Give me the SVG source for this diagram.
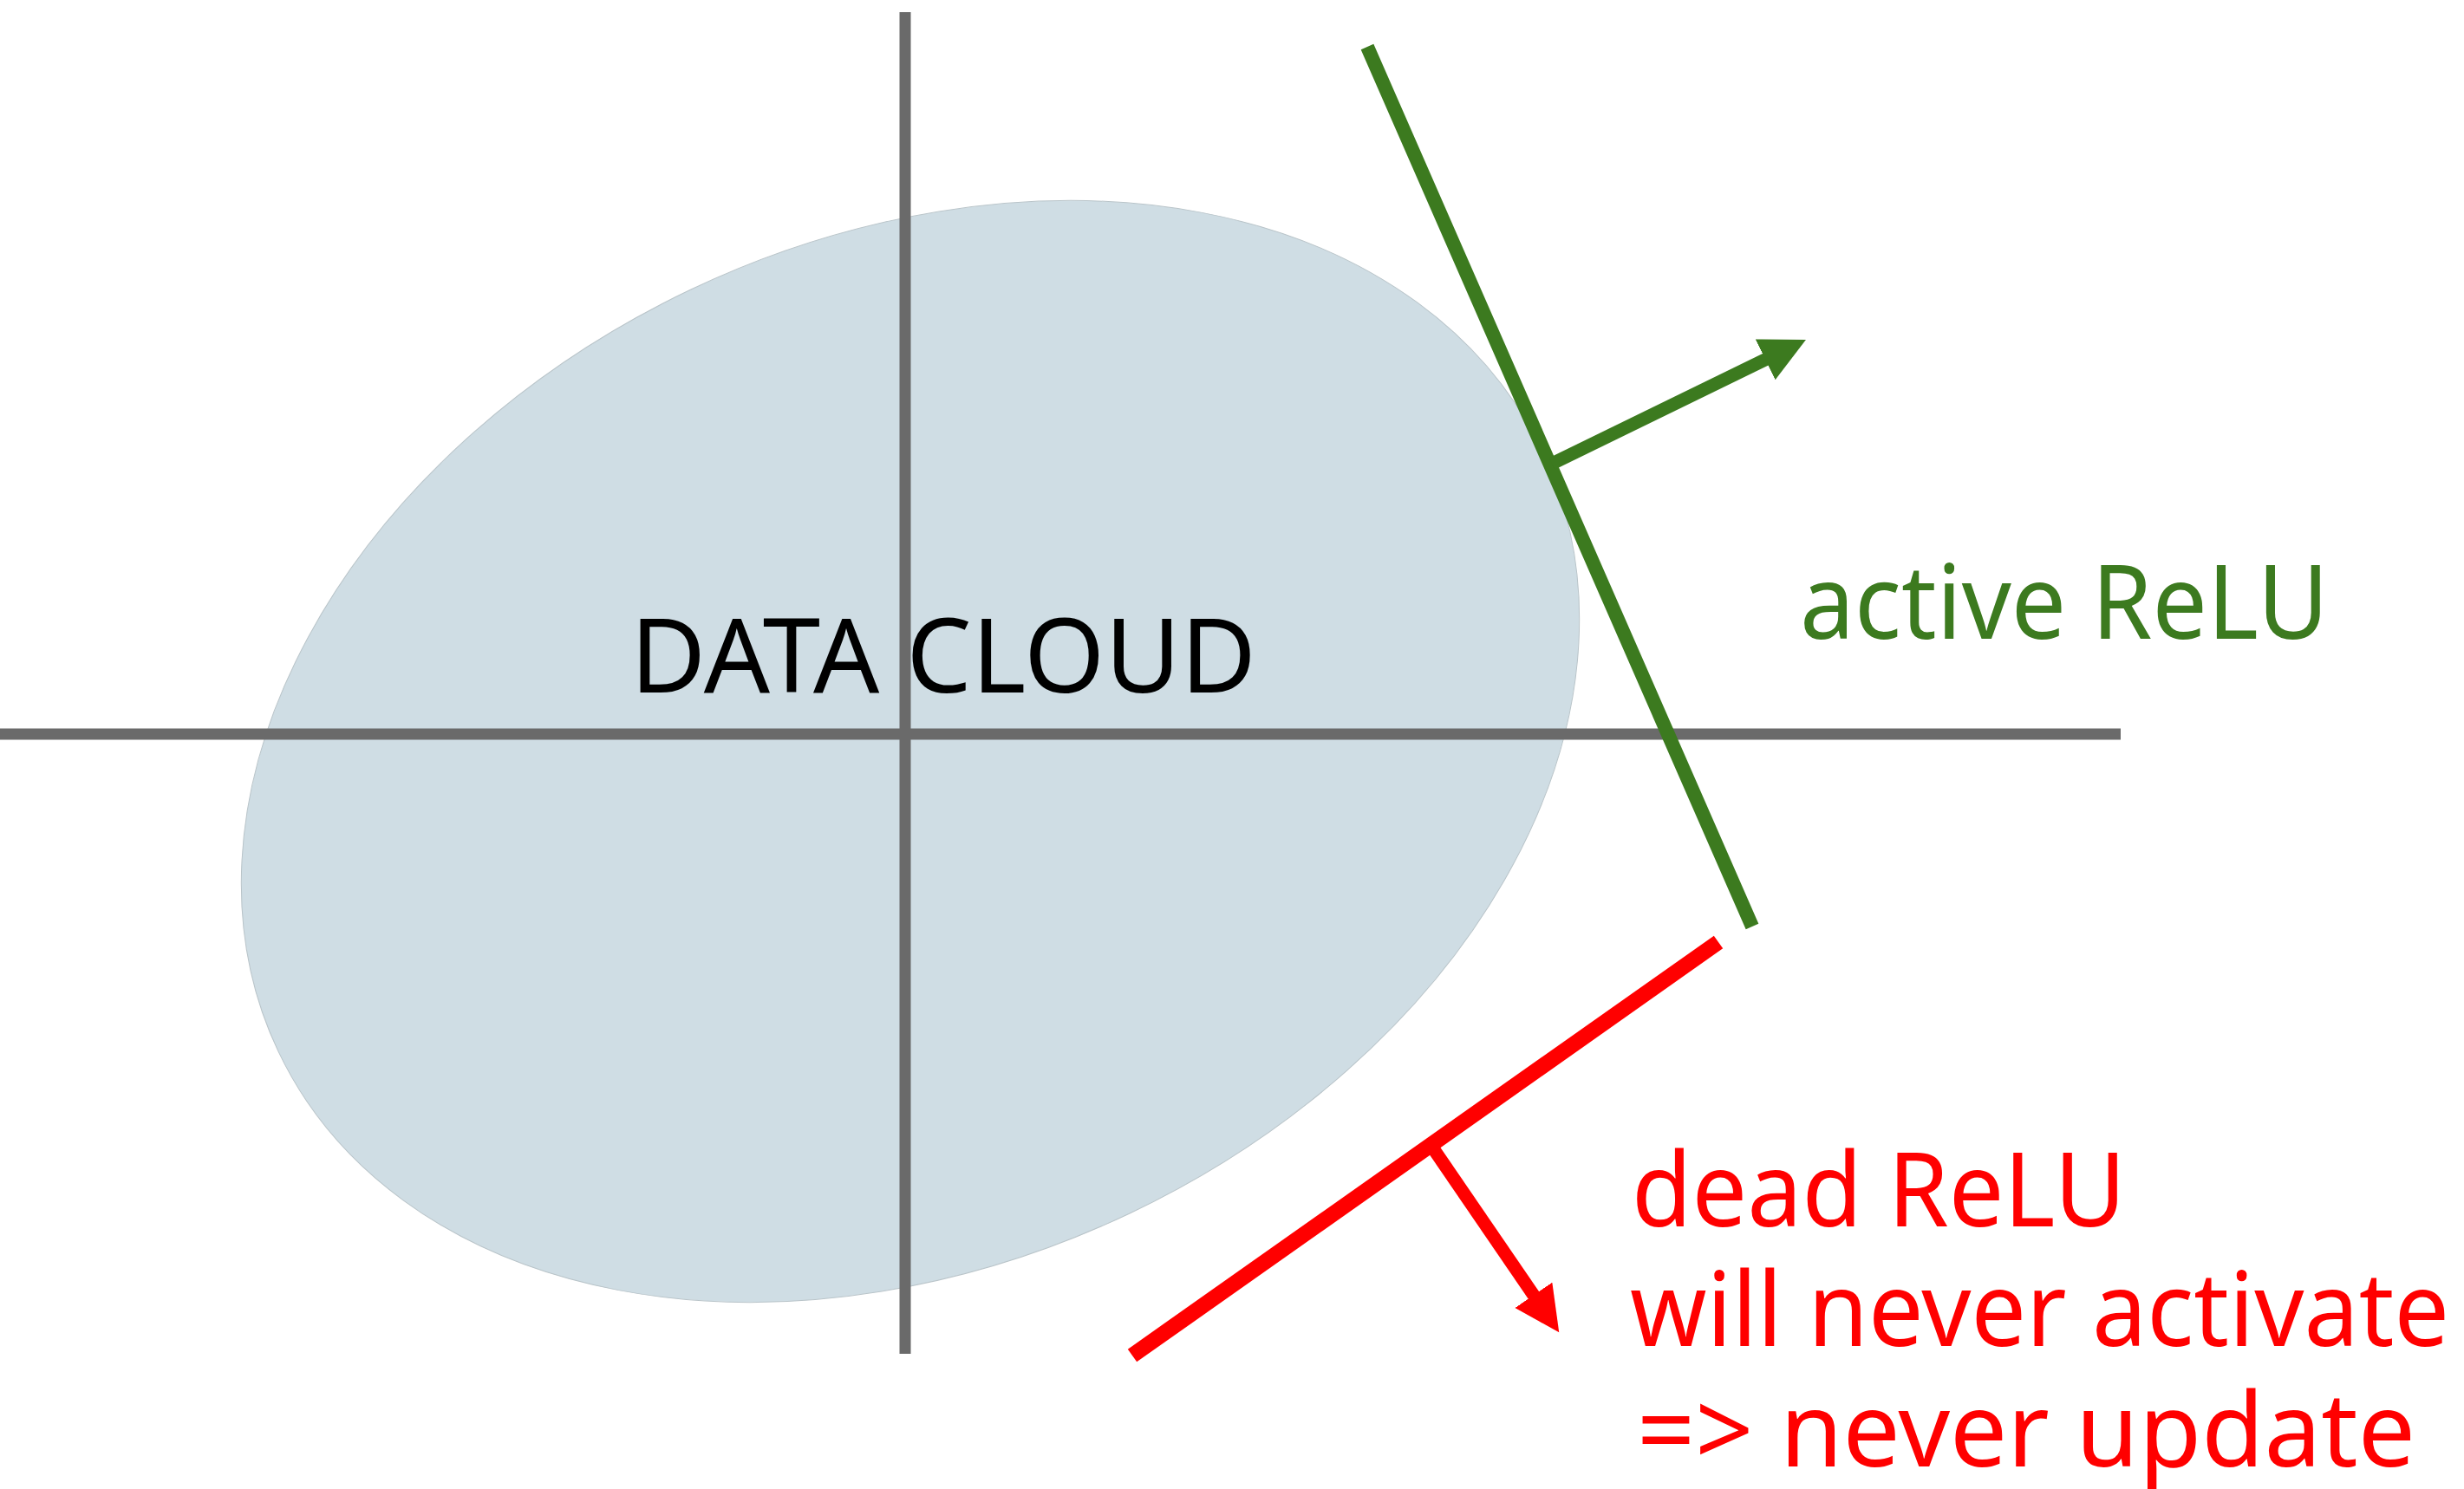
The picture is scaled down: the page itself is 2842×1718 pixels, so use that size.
<svg xmlns="http://www.w3.org/2000/svg" width="2842" height="1718" viewBox="0 0 2842 1718">
  <style>
    .axis { stroke: #6a6a6a; stroke-width: 13; fill: none; }
    .active { stroke: #3c7a1f; fill: none; }
    .dead { stroke: #ff0000; fill: none; }
    .label { font-family: "Noto Sans", "Open Sans", sans-serif; font-size: 118px; }
  </style>
  <defs>
    <marker id="head-green" markerUnits="userSpaceOnUse" markerWidth="56" markerHeight="56" refX="2" refY="26" orient="auto">
      <path d="M0,0 L52,26 L0,52 z" fill="#3c7a1f"/>
    </marker>
    <marker id="head-red" markerUnits="userSpaceOnUse" markerWidth="56" markerHeight="56" refX="2" refY="26" orient="auto">
      <path d="M0,0 L52,26 L0,52 z" fill="#ff0000"/>
    </marker>
  </defs>

  <rect width="2842" height="1718" fill="#ffffff"/>

  <!-- data cloud -->
  <g id="data-cloud">
    <ellipse cx="1050" cy="867" rx="807" ry="590" transform="rotate(-25.4 1050 867)" fill="#cfdde4" stroke="#b9c4c9" stroke-width="1"/>
  </g>

  <!-- coordinate axes -->
  <g id="axes">
    <line class="axis" x1="1044" y1="14" x2="1044" y2="1562"/>
    <line class="axis" x1="0" y1="847" x2="2446" y2="847"/>
  </g>

  <g id="data-cloud-label">
    <text class="label" x="727" y="799" textLength="722" lengthAdjust="spacingAndGlyphs" fill="#000000">DATA CLOUD</text>
  </g>

  <!-- decision boundaries and their normals -->
  <g id="connectors">
    <line class="active" stroke-width="16" x1="1577" y1="54" x2="2021" y2="1069"/>
    <line class="active" stroke-width="15" x1="1790" y1="535" x2="2038" y2="414" marker-end="url(#head-green)"/>
    <line class="dead" stroke-width="18" x1="1982" y1="1087" x2="1306" y2="1564"/>
    <line class="dead" stroke-width="15" x1="1653" y1="1325" x2="1770" y2="1496" marker-end="url(#head-red)"/>
  </g>

  <g id="active-relu">
    <text class="label" x="2076" y="737" textLength="610" lengthAdjust="spacingAndGlyphs" fill="#3c7a1f">active ReLU</text>
  </g>

  <g id="dead-relu">
    <text class="label" fill="#ff0000">
      <tspan x="1882" y="1415" textLength="570" lengthAdjust="spacingAndGlyphs">dead ReLU</tspan>
      <tspan x="1880" y="1553" textLength="945" lengthAdjust="spacingAndGlyphs">will never activate</tspan>
      <tspan x="1888" y="1692" textLength="898" lengthAdjust="spacingAndGlyphs">=&gt; never update</tspan>
    </text>
  </g>
</svg>
